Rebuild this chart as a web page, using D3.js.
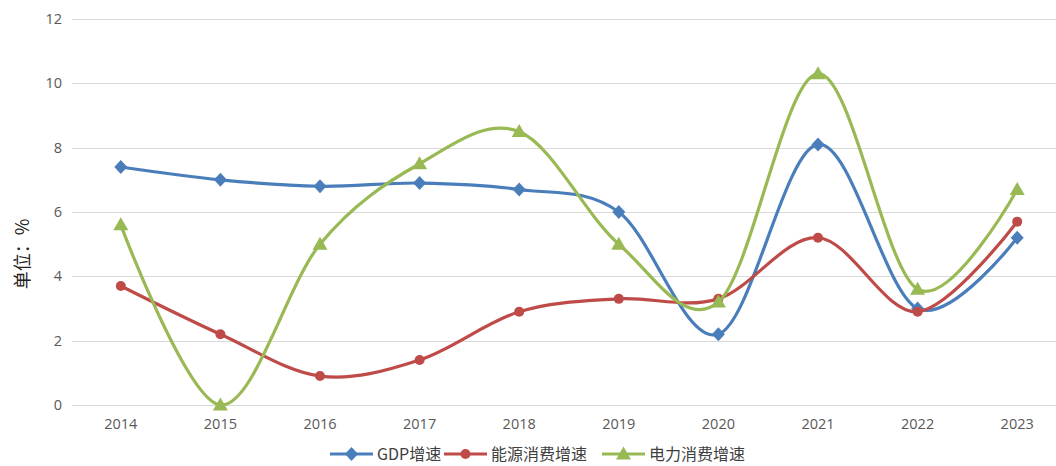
<!DOCTYPE html>
<html>
<head>
<meta charset="utf-8">
<script src="https://cdn.jsdelivr.net/npm/d3@7"></script>
<style>
  html, body { margin: 0; padding: 0; background: #fff; }
  svg { display: block; }
</style>
</head>
<body>
<svg id="chart" width="1056" height="466"></svg>
<script>
// Years on the category axis
const years = ["2014", "2015", "2016", "2017", "2018", "2019", "2020", "2021", "2022", "2023"];
// Growth rates, %
const gdpGrowth = [7.4, 7.0, 6.8, 6.9, 6.7, 6.0, 2.2, 8.1, 3.0, 5.2];
const energyGrowth = [3.7, 2.2, 0.9, 1.4, 2.9, 3.3, 3.3, 5.2, 2.9, 5.7];
const powerGrowth = [5.6, 0.0, 5.0, 7.5, 8.5, 5.0, 3.2, 10.3, 3.6, 6.7];
// Value axis ticks
const yTicks = [0, 2, 4, 6, 8, 10, 12];
const seriesNames = ["GDP增速", "能源消费增速", "电力消费增速"];
const yTitle = "单位：%";

// Marker shapes, drawn around the origin
const diamond = "M0,-7L6.5,0L0,7L-6.5,0Z";
const circle = "M5,0A5,5 0 1,1 -5,0A5,5 0 1,1 5,0Z";
const triangle = "M0,-7.5L7.5,5.5L-7.5,5.5Z";

const series = [
  { name: seriesNames[0], values: gdpGrowth, color: "#4A7EBB", marker: diamond },
  { name: seriesNames[1], values: energyGrowth, color: "#BE4B48", marker: circle },
  { name: seriesNames[2], values: powerGrowth, color: "#98B954", marker: triangle }
];

const svg = d3.select("#chart");
const plotLeft = 71, plotRight = 1067, plotTop = 19, plotBottom = 405;

const x = d3.scaleBand().domain(years).range([plotLeft, plotRight]);
const y = d3.scaleLinear().domain([0, 12]).range([plotBottom, plotTop]);
const cx = d => x(d) + x.bandwidth() / 2;

// Horizontal gridlines
svg.append("g").selectAll("line").data(yTicks).join("line")
  .attr("x1", plotLeft + 1).attr("x2", 1056)
  .attr("y1", d => Math.round(y(d)) + 0.5).attr("y2", d => Math.round(y(d)) + 0.5)
  .attr("stroke", "#d9d9d9").attr("stroke-width", 1);

// Value axis labels
const yAxis = d3.axisLeft(y).tickValues(yTicks).tickSize(0).tickPadding(0);
const yg = svg.append("g").attr("transform", `translate(${plotLeft - 9},0)`).call(yAxis);
yg.select(".domain").remove();
yg.selectAll("text").attr("font-family", "'Open Sans', 'DejaVu Sans', sans-serif")
  .attr("font-size", 14.5).attr("fill", "#595959");

// Category axis labels
const xAxis = d3.axisBottom(x).tickSize(0).tickPadding(0);
const xg = svg.append("g").attr("transform", `translate(0,${plotBottom + 14})`).call(xAxis);
xg.select(".domain").remove();
xg.selectAll("text").attr("font-family", "'Open Sans', 'DejaVu Sans', sans-serif")
  .attr("font-size", 14.5).attr("fill", "#595959");

// Axis title
svg.append("text")
  .attr("transform", "translate(29,254) rotate(-90)")
  .attr("text-anchor", "middle")
  .attr("font-family", "'Noto Sans CJK SC', sans-serif")
  .attr("font-size", 18).attr("fill", "#222")
  .text(yTitle);

// Smoothed lines and markers
const line = d3.line()
  .x((d, i) => cx(years[i]))
  .y(d => y(d))
  .curve(d3.curveCardinal.tension(0));

series.forEach(s => {
  const g = svg.append("g");
  g.append("path").datum(s.values)
    .attr("d", line)
    .attr("fill", "none").attr("stroke", s.color)
    .attr("stroke-width", 3.2).attr("stroke-linejoin", "round").attr("stroke-linecap", "round");
  g.selectAll("path.m").data(s.values).join("path")
    .attr("class", "m")
    .attr("transform", (d, i) => `translate(${cx(years[i])},${y(d)})`)
    .attr("d", s.marker)
    .attr("fill", s.color);
});

// Legend
const legendItems = [
  { s: series[0], x0: 330 },
  { s: series[1], x0: 444 },
  { s: series[2], x0: 602 }
];
const ly = 454;
legendItems.forEach(({ s, x0 }) => {
  const g = svg.append("g");
  g.append("line").attr("x1", x0).attr("x2", x0 + 43).attr("y1", ly).attr("y2", ly)
    .attr("stroke", s.color).attr("stroke-width", 3.2);
  g.append("path").attr("transform", `translate(${x0 + 21.5},${ly})`)
    .attr("d", s.marker).attr("fill", s.color);
  g.append("text").attr("x", x0 + 47).attr("y", ly).attr("dy", "0.36em")
    .attr("font-family", "'Noto Sans CJK SC', sans-serif")
    .attr("font-size", 16).attr("fill", "#404040")
    .text(s.name);
});
</script>
</body>
</html>
